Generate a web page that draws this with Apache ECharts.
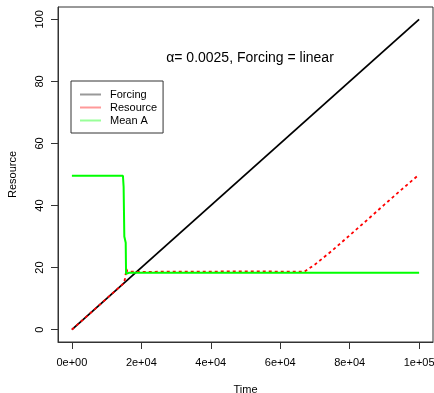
<!DOCTYPE html>
<html>
<head>
<meta charset="utf-8">
<script src="https://cdn.jsdelivr.net/npm/echarts@6/dist/echarts.min.js"></script>
<style>
  html, body { margin: 0; padding: 0; background: #fff; }
  #chart { width: 434px; height: 393px; }
</style>
</head>
<body>
<div id="chart"></div>
<script>
const xTicks = [0, 20000, 40000, 60000, 80000, 100000];
const xTickLabels = ["0e+00", "2e+04", "4e+04", "6e+04", "8e+04", "1e+05"];
const yTicks = [0, 20, 40, 60, 80, 100];

const forcingTime = [0, 100000];
const forcingValue = [0, 100];

const resourceTime = [0, 15000, 15300, 15500, 15700, 16000, 20000, 30000, 40000, 50000, 60000, 67000, 70000, 75000, 80000, 85000, 90000, 95000, 100000];
const resourceValue = [0, 15, 16.5, 17, 19.5, 18.7, 18.6, 18.7, 18.7, 18.8, 18.7, 18.7, 21, 25.5, 30.4, 35.3, 40.3, 45.2, 50];

const meanTime = [0, 14700, 14900, 15000, 15100, 15500, 15600, 15700, 16500, 100000];
const meanValue = [49.6, 49.6, 46, 38, 30, 28, 18, 17.8, 18.3, 18.3];

const zip = (xs, ys) => xs.map((x, i) => [x, ys[i]]);

const font = "Liberation Sans, Arial, Helvetica, sans-serif";

const chart = echarts.init(document.getElementById("chart"));

const option = {
  animation: false,
  title: {
    text: "\u03b1= 0.0025, Forcing = linear",
    left: 245,
    top: 46,
    textAlign: "center",
    textStyle: { fontFamily: font, fontSize: 14, fontWeight: "normal", color: "#000" },
  },
  legend: {
    orient: "vertical",
    left: 71,
    top: 81,
    padding: [7, 6, 6, 9],
    borderColor: "#333",
    borderWidth: 1,
    itemGap: 0,
    itemWidth: 21,
    itemHeight: 2,
    icon: "rect",
    selectedMode: false,
    textStyle: { fontFamily: font, fontSize: 11, color: "#000", lineHeight: 13, padding: [0, 0, 0, 4] },
    data: [
      { name: "Forcing", itemStyle: { color: "#999" } },
      { name: "Resource", itemStyle: { color: "#f99" } },
      { name: "Mean A", itemStyle: { color: "#9f9" } },
    ],
  },
  grid: {
    left: 58,
    right: 1,
    top: 7,
    bottom: 51,
    outerBoundsMode: "none",
    show: true,
    borderColor: "#333",
    borderWidth: 1,
  },
  xAxis: {
    type: "value",
    min: -4000,
    max: 104000,
    name: "Time",
    nameLocation: "middle",
    nameGap: 42,
    nameTextStyle: { fontFamily: font, fontSize: 11, color: "#000" },
    axisLine: { show: true, onZero: false, lineStyle: { color: "#333", width: 1 } },
    splitLine: { show: false },
    axisTick: { show: true, length: 7, lineStyle: { color: "#333", width: 1 }, customValues: xTicks },
    axisLabel: {
      fontFamily: font,
      fontSize: 11,
      color: "#000",
      margin: 15,
      customValues: xTicks,
      formatter: (v) => xTickLabels[xTicks.indexOf(v)],
    },
  },
  yAxis: {
    type: "value",
    min: -4,
    max: 104,
    name: "Resource",
    nameLocation: "middle",
    nameGap: 40,
    nameTextStyle: { fontFamily: font, fontSize: 11, color: "#000" },
    axisLine: { show: true, onZero: false, lineStyle: { color: "#333", width: 1 } },
    splitLine: { show: false },
    axisTick: { show: true, length: 7, lineStyle: { color: "#333", width: 1 }, customValues: yTicks },
    axisLabel: {
      fontFamily: font,
      fontSize: 11,
      color: "#000",
      margin: 13,
      rotate: 90,
      customValues: yTicks,
    },
  },
  series: [
    {
      name: "Forcing",
      type: "line",
      data: zip(forcingTime, forcingValue),
      showSymbol: false,
      lineStyle: { color: "#000", width: 1.8 },
      itemStyle: { color: "#000" },
    },
    {
      name: "Resource",
      type: "line",
      data: zip(resourceTime, resourceValue),
      showSymbol: false,
      lineStyle: { color: "#ff0000", width: 1.8, type: [3, 3] },
      itemStyle: { color: "#ff0000" },
    },
    {
      name: "Mean A",
      type: "line",
      data: zip(meanTime, meanValue),
      showSymbol: false,
      lineStyle: { color: "#00ff00", width: 2 },
      itemStyle: { color: "#00ff00" },
    },
  ],
};

option && chart.setOption(option);
</script>
</body>
</html>
